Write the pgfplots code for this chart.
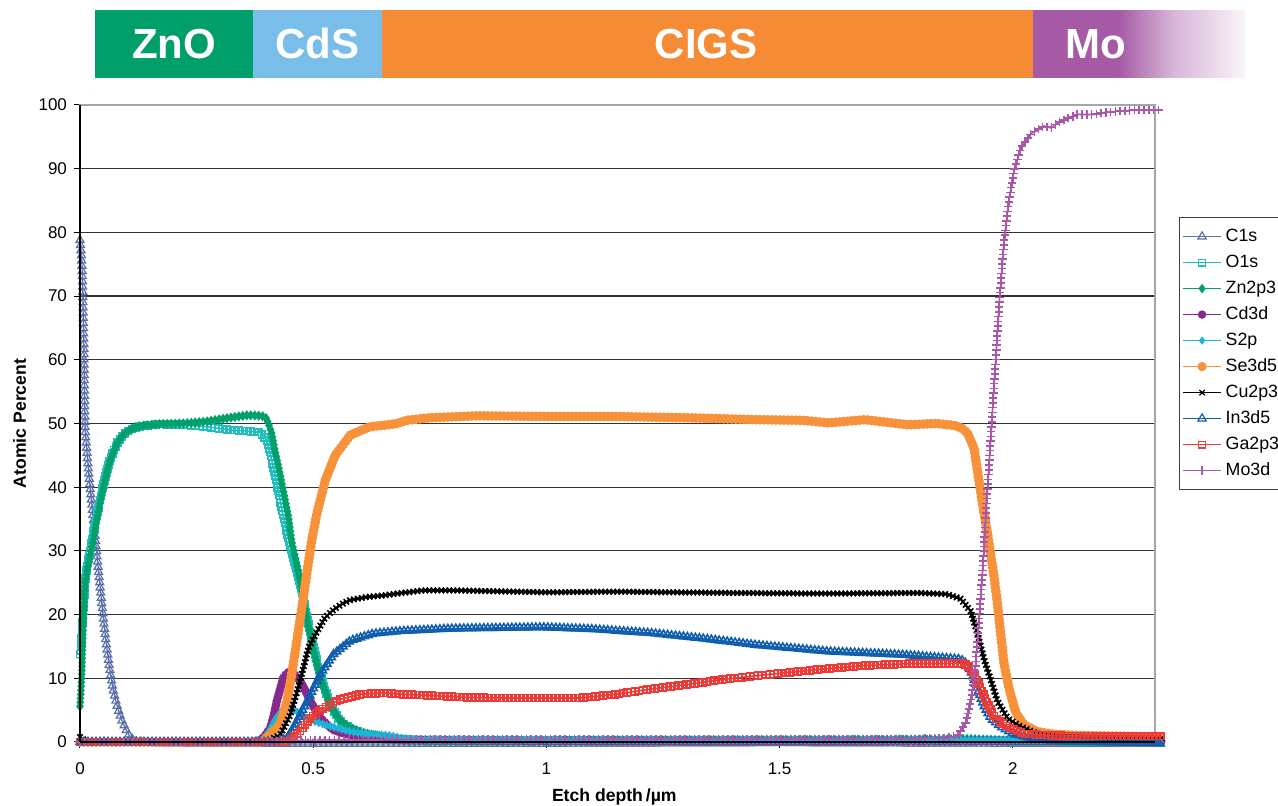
\documentclass[border=0pt]{standalone}
\usepackage{pgfplots}
\pgfplotsset{compat=1.18}
\usepackage{fontspec}
\setmainfont{Liberation Sans}
\usetikzlibrary{decorations.markings}

\definecolor{cC}{HTML}{5A6EA8}
\definecolor{cO}{HTML}{22BDBD}
\definecolor{cZn}{HTML}{00A06A}
\definecolor{cCd}{HTML}{872A8C}
\definecolor{cS}{HTML}{1CB5D8}
\definecolor{cSe}{HTML}{F7923A}
\definecolor{cCu}{HTML}{000000}
\definecolor{cIn}{HTML}{0F5EAD}
\definecolor{cGa}{HTML}{EE3A36}
\definecolor{cMo}{HTML}{A958A9}
\definecolor{bZnO}{HTML}{009E6A}
\definecolor{bCdS}{HTML}{78BEE8}
\definecolor{bCIGS}{HTML}{F58C35}
\definecolor{bMo}{HTML}{A65AA6}

\pgfdeclarehorizontalshading{moshade}{100bp}{color(0bp)=(bMo); color(45bp)=(bMo); color(58bp)=(bMo!45!white); color(75bp)=(bMo!6!white); color(100bp)=(bMo!6!white)}

\tikzset{dmark/.style n args={3}{postaction={decorate,decoration={markings,mark=between positions 0 and 1 step #2 with {\pgftransformresetnontranslations\pgfplotmarksize=#3\pgfuseplotmark{#1}}}}}}

\begin{document}
\begin{tikzpicture}
\begin{axis}[
  width=537.5pt, height=318.5pt, scale only axis,
  xmin=0, xmax=2.305, ymin=0, ymax=100,
  xtick={0,0.5,1,1.5,2}, xticklabels={0,0.5,1,1.5,2},
  ytick={0,10,...,100},
  ymajorgrids, grid style={draw=black!80, line width=0.6pt},
  tick align=outside, tick pos=left, major tick length=3pt,
  axis line style={draw=black!35, line width=0.6pt},
  tick style={black, line width=0.5pt},
  ticklabel style={font=\fontsize{8.5}{10}\selectfont},
  xticklabel style={yshift=-4pt},
  /pgf/number format/assume math mode=true,
  xlabel={\textbf{Etch depth\,/µm}},
  ylabel={\textbf{Atomic Percent}},
  label style={font=\fontsize{8.8}{10}\selectfont},
  xlabel style={at={(axis description cs:0.497,-0.0863)}, anchor=center},
  ylabel style={at={(axis description cs:-0.0563,0.5)}, anchor=center},
  clip=false,
  legend style={at={(1.0223,0.824)}, anchor=north west, draw=black!75, line width=0.5pt,
    font=\fontsize{8.9}{10}\selectfont, row sep=0pt, inner ysep=3pt, inner xsep=1.5pt,
    nodes={inner xsep=2pt, inner ysep=2.4pt, text height=6.6pt, text depth=1.6pt}},
  legend cell align=left,
  legend image code/.code={\draw[mark repeat=2,mark phase=2,#1] plot coordinates {(0pt,0pt) (9.5pt,0pt) (19pt,0pt)};},
]
% legend
\addlegendimage{cC, line width=0.6pt, mark=triangle, mark size=2.4pt}\addlegendentry{C1s}
\addlegendimage{cO, line width=0.6pt, mark=square, mark size=1.7pt}\addlegendentry{O1s}
\addlegendimage{cZn, line width=0.6pt, mark=diamond*, mark size=1.9pt}\addlegendentry{Zn2p3}
\addlegendimage{cCd, line width=0.6pt, mark=*, mark size=1.8pt}\addlegendentry{Cd3d}
\addlegendimage{cS, line width=0.6pt, mark=diamond*, mark size=1.6pt}\addlegendentry{S2p}
\addlegendimage{cSe, line width=0.6pt, mark=*, mark size=2pt}\addlegendentry{Se3d5}
\addlegendimage{cCu, line width=0.6pt, mark=x, mark size=1.9pt}\addlegendentry{Cu2p3}
\addlegendimage{cIn, line width=0.6pt, mark=triangle, mark size=2.4pt}\addlegendentry{In3d5}
\addlegendimage{cGa, line width=0.6pt, mark=square, mark size=1.7pt}\addlegendentry{Ga2p3}
\addlegendimage{cMo, line width=0.6pt, mark=+, mark size=2.1pt}\addlegendentry{Mo3d}

% C1s
\addplot[cC, line width=0.6pt, mark=none, forget plot, dmark={triangle}{2.6pt}{2.3pt}] coordinates {
(0,78.8) (0.003,76.5) (0.005,73.5) (0.006,70.5) (0.007,66.6) (0.0086,61.5) (0.0095,55.6) (0.011,49.0)
(0.019,42.0) (0.0286,34.9) (0.038,28.1) (0.0465,21.9) (0.055,16.2) (0.063,11.8) (0.0715,8.0) (0.081,5.3)
(0.089,3.5) (0.099,1.9) (0.107,0.8) (0.12,0.1) (0.15,-0.2) (0.3,-0.3) (0.6,-0.3) (1.0,-0.3) (1.5,-0.2) (2.0,-0.3) (2.32,-0.3)};
% O1s
\addplot[cO, line width=0.8pt, mark=none, forget plot, dmark={square}{2pt}{1.7pt}] coordinates {
(0,13.8) (0.002,14) (0.004,17) (0.006,19.5) (0.0086,22.3) (0.011,25.5) (0.019,29) (0.0286,32.8) (0.038,36.2)
(0.0465,39.2) (0.055,41.8) (0.063,44.0) (0.0715,45.6) (0.081,47.1) (0.093,48.2) (0.107,49.0) (0.129,49.6)
(0.17,49.9) (0.22,49.8) (0.27,49.5) (0.32,49.0) (0.36,48.8) (0.386,48.6) (0.40,47.4) (0.411,44.3) (0.422,40.6)
(0.429,38) (0.436,35.4) (0.447,32) (0.458,29) (0.47,25.5) (0.483,21) (0.497,16) (0.515,10.5) (0.536,6)
(0.555,3.5) (0.58,2) (0.62,1.1) (0.68,0.4) (0.75,0.2) (1.0,0.2) (1.5,0.3) (1.9,0.3) (2.0,0.1) (2.32,0)};
% Zn2p3
\addplot[cZn, line width=0.8pt, mark=none, forget plot, dmark={diamond*}{2pt}{1.9pt}] coordinates {
(0,5.6) (0.002,8) (0.004,11) (0.006,16.5) (0.0086,21.3) (0.011,25) (0.019,28.4) (0.0286,31.9) (0.038,35.6)
(0.0465,38.8) (0.055,41.5) (0.063,43.8) (0.0715,45.5) (0.081,47.1) (0.093,48.2) (0.107,49.0) (0.129,49.6)
(0.17,49.9) (0.22,50.0) (0.27,50.3) (0.32,50.9) (0.36,51.3) (0.39,51.2) (0.40,50.8) (0.411,48.5) (0.418,45.8)
(0.426,43.2) (0.433,40.6) (0.44,38) (0.447,35.4) (0.454,31.5) (0.472,25.4) (0.483,20.8) (0.497,15.5)
(0.515,10.2) (0.536,5.8) (0.555,3.6) (0.572,2.5) (0.6,1.6) (0.622,1.2) (0.68,0.4) (0.75,0.2) (1.0,0.2)
(1.5,0.3) (1.85,0.4) (1.9,0.5) (2.0,0.2) (2.32,0.1)};
% Cd3d
\addplot[cCd, line width=0.8pt, mark=none, forget plot, dmark={*}{2pt}{1.8pt}] coordinates {
(0,0) (0.37,0) (0.386,0.3) (0.395,0.8) (0.408,2.2) (0.415,4) (0.422,6.4) (0.43,8.5) (0.436,10.1) (0.445,10.9)
(0.451,11.0) (0.46,10.6) (0.472,9.6) (0.483,8.1) (0.494,6.4) (0.505,5.0) (0.515,3.8) (0.53,2.7) (0.543,1.9)
(0.572,1.2) (0.62,0.6) (0.7,0.3) (1.0,0.2) (1.9,0.2) (2.32,0.1)};
% S2p
\addplot[cS, line width=0.8pt, mark=none, forget plot, dmark={diamond*}{2pt}{1.6pt}] coordinates {
(0,0) (0.37,0) (0.39,0.3) (0.40,1.2) (0.41,2.3) (0.418,3.5) (0.426,4.3) (0.433,4.9) (0.444,5.5) (0.455,5.3)
(0.472,4.4) (0.49,3.6) (0.508,3.1) (0.53,2.6) (0.551,2.2) (0.575,1.7) (0.6,1.4) (0.63,1.2) (0.665,1.0)
(0.69,0.6) (0.72,0.4) (1.0,0.3) (1.5,0.3) (1.9,0.3) (2.0,0.3) (2.32,0.2)};
% Se3d5
\addplot[cSe, line width=0.8pt, mark=none, forget plot, dmark={*}{2pt}{2pt}] coordinates {
(0,0) (0.39,0) (0.408,1.2) (0.429,2.8) (0.444,6.4) (0.454,10.7) (0.465,15.9) (0.476,21.2) (0.486,26.4)
(0.497,31.7) (0.508,35.9) (0.526,41.1) (0.547,45) (0.58,48.2) (0.622,49.5) (0.65,49.7) (0.68,50.0) (0.7,50.5)
(0.75,50.9) (0.85,51.2) (1.0,51.1) (1.146,51.1) (1.3,50.9) (1.45,50.6) (1.55,50.5) (1.606,50.1) (1.683,50.6)
(1.775,49.8) (1.836,50.0) (1.875,49.7) (1.89,49.3) (1.903,48.5) (1.917,46.1) (1.924,42.7) (1.931,39.4)
(1.938,36) (1.946,32.7) (1.953,29.2) (1.96,25.9) (1.967,21.8) (1.974,17.1) (1.981,12.4) (1.992,8.4)
(2.006,4.7) (2.024,2.7) (2.053,1.6) (2.09,1.2) (2.15,1.0) (2.32,0.8)};
% Cu2p3
\addplot[cCu, line width=0.8pt, mark=none, forget plot, dmark={x}{2pt}{1.9pt}] coordinates {
(0,0.8) (0.01,0.2) (0.05,0) (0.39,0) (0.41,0.4) (0.43,1.2) (0.451,4.3) (0.472,9.6) (0.49,14.8) (0.508,17.3)
(0.525,19.5) (0.544,20.8) (0.565,21.8) (0.58,22.3) (0.62,22.8) (0.651,23.0) (0.69,23.4) (0.736,23.8) (0.8,23.8)
(1.0,23.5) (1.146,23.6) (1.4,23.4) (1.6,23.3) (1.8,23.4) (1.86,23.2) (1.888,22.5) (1.91,20.5) (1.924,17.1)
(1.938,13.1) (1.953,9.7) (1.967,6.4) (1.989,3.7) (2.017,2.4) (2.053,1.3) (2.1,0.9) (2.2,0.7) (2.32,0.6)};
% In3d5
\addplot[cIn, line width=0.8pt, mark=none, forget plot, dmark={triangle}{2pt}{2.2pt}] coordinates {
(0,0) (0.42,0) (0.444,0.6) (0.458,2.3) (0.472,4.3) (0.494,7.4) (0.515,10.6) (0.544,13.8) (0.58,15.9)
(0.629,17.0) (0.687,17.4) (0.8,17.8) (0.993,18.0) (1.1,17.7) (1.223,17.1) (1.34,16.2) (1.453,15.2)
(1.606,14.2) (1.76,13.7) (1.888,13.0) (1.903,12.2) (1.91,11.1) (1.924,8.4) (1.938,5.7) (1.953,3.7)
(1.974,2.4) (2.0,1.3) (2.045,0.5) (2.1,0.1) (2.32,-0.2)};
% Ga2p3
\addplot[cGa, line width=0.8pt, mark=none, forget plot, dmark={square}{2pt}{1.7pt}] coordinates {
(0,0) (0.43,0) (0.45,0.2) (0.472,1.7) (0.494,3.8) (0.522,5.3) (0.558,6.7) (0.601,7.5) (0.651,7.7) (0.687,7.5)
(0.722,7.4) (0.83,7.0) (0.916,6.9) (1.07,6.9) (1.15,7.5) (1.223,8.3) (1.3,9.0) (1.376,9.8) (1.45,10.4)
(1.53,11.0) (1.6,11.5) (1.683,12.0) (1.78,12.3) (1.888,12.35) (1.903,12.1) (1.917,10.7) (1.931,8.4)
(1.946,6.0) (1.963,3.7) (1.989,2.4) (2.024,1.3) (2.09,1.0) (2.2,0.9) (2.32,0.9)};
% Mo3d
\addplot[cMo, line width=0.8pt, mark=none, forget plot, dmark={+}{2.4pt}{2.1pt}] coordinates {
(0,0) (0.38,0) (0.45,0.2) (0.55,0.3) (0.7,0.4) (1.0,0.4) (1.5,0.5) (1.8,0.5) (1.85,0.6) (1.87,0.8) (1.881,1.0)
(1.899,3.0) (1.91,6.4) (1.919,11.1) (1.928,19.2) (1.935,26.5) (1.942,35.3) (1.949,43.4) (1.956,51.4)
(1.963,59.5) (1.971,68.9) (1.981,78.4) (1.992,85.1) (2.003,89.8) (2.017,93.2) (2.039,95.5) (2.067,96.7)
(2.082,96.4) (2.103,97.5) (2.139,98.5) (2.174,98.5) (2.203,98.9) (2.26,99.2) (2.32,99.2)};

% axis lines left and bottom
\draw[black, line width=0.8pt] (rel axis cs:0,0) -- (rel axis cs:0,1);
\draw[black, line width=0.8pt] (rel axis cs:0,0) -- (rel axis cs:1,0);

% banner
\fill[bZnO] (axis cs:0.032,104.24) rectangle (axis cs:0.371,114.9);
\fill[bCdS] (axis cs:0.371,104.24) rectangle (axis cs:0.6476,114.9);
\fill[bCIGS] (axis cs:0.6476,104.24) rectangle (axis cs:2.0437,114.9);
\shade[shading=moshade] (axis cs:2.0437,104.24) rectangle (axis cs:2.4984,114.9);
\node[text=white, font=\fontsize{21}{21}\selectfont\bfseries, inner sep=0pt] at (axis cs:0.2016,109.6) {ZnO};
\node[text=white, font=\fontsize{21}{21}\selectfont\bfseries, inner sep=0pt] at (axis cs:0.5083,109.6) {CdS};
\node[text=white, font=\fontsize{21}{21}\selectfont\bfseries, inner sep=0pt] at (axis cs:1.3425,109.6) {CIGS};
\node[text=white, font=\fontsize{21}{21}\selectfont\bfseries, inner sep=0pt] at (axis cs:2.179,109.6) {Mo};
\end{axis}
\pgfresetboundingbox
\path[use as bounding box] (-40pt,-32pt) rectangle (599pt,371pt);
\end{tikzpicture}
\end{document}
